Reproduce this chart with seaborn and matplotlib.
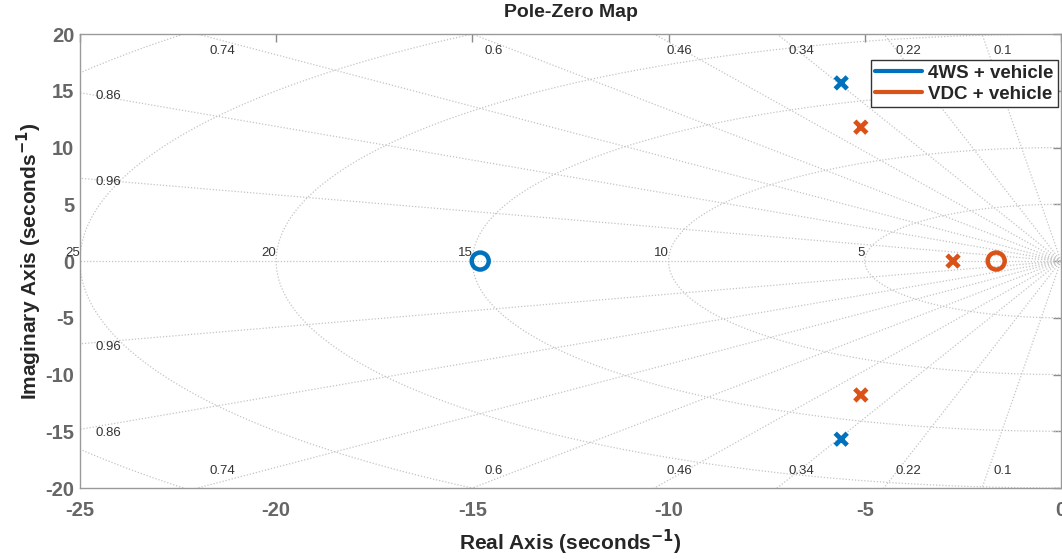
import numpy as np
import pandas as pd
import matplotlib
matplotlib.use("Agg")
import matplotlib.pyplot as plt
import seaborn as sns
from matplotlib.lines import Line2D

# pole / zero locations
systems = ["4WS + vehicle", "VDC + vehicle"]
colors = ["#0072BD", "#D95319"]
pole_re_4ws = [-5.6, -5.6]
pole_im_4ws = [15.7, -15.7]
zero_re_4ws = [-14.8]
zero_im_4ws = [0.0]
pole_re_vdc = [-5.1, -5.1, -2.75]
pole_im_vdc = [11.8, -11.8, 0.0]
zero_re_vdc = [-1.65]
zero_im_vdc = [0.0]

# s-plane grid values
damping = [0.1, 0.22, 0.34, 0.46, 0.6, 0.74, 0.86, 0.96]
wn_circles = [5, 10, 15, 20, 25, 30]
wn_labels = [5, 10, 15, 20, 25]

xlim = (-25, 0)
ylim = (-20, 20)

sns.set_style("white")
plt.rcParams['font.family'] = ['Arial', 'Liberation Sans', 'DejaVu Sans']
plt.rcParams['axes.unicode_minus'] = False

fig = plt.figure(figsize=(10.62, 5.59), dpi=100)
ax = fig.add_axes([0.0753, 0.127, 0.9237, 0.812])

grid_kw = dict(color="#c4c4c4", lw=0.9, ls=(0, (1, 1.5)), zorder=1)
lab_kw = dict(fontsize=9.5, color="#333333", zorder=2)

# damping rays
r = np.array([0, 60])
for z in damping:
    wd = np.sqrt(1 - z ** 2)
    for sgn in (1, -1):
        ax.plot(-z * r, sgn * wd * r, **grid_kw)
    slope = wd / z
    x_top = -ylim[1] / slope
    if x_top > xlim[0]:
        ax.text(x_top + 0.3, 18.5, f"{z:g}", ha="left", va="center", **lab_kw)
        ax.text(x_top + 0.3, -18.5, f"{z:g}", ha="left", va="center", **lab_kw)
    else:
        y_left = -xlim[0] * slope
        ax.text(-24.6, y_left - 0.3, f"{z:g}", ha="left", va="center", **lab_kw)
        ax.text(-24.6, -y_left - 0.3, f"{z:g}", ha="left", va="center", **lab_kw)
ax.plot([-60, 0], [0, 0], **grid_kw)

# natural frequency semicircles
th = np.linspace(np.pi / 2, 3 * np.pi / 2, 300)
for w in wn_circles:
    ax.plot(w * np.cos(th), w * np.sin(th), **grid_kw)
for w in wn_labels:
    ax.text(-w, 0.2, f"{w}", ha="right", va="bottom", clip_on=False, **lab_kw)

# poles and zeros
poles = pd.DataFrame({
    "re": pole_re_4ws + pole_re_vdc,
    "im": pole_im_4ws + pole_im_vdc,
    "sys": [systems[0]] * len(pole_re_4ws) + [systems[1]] * len(pole_re_vdc),
})
zeros = pd.DataFrame({
    "re": zero_re_4ws + zero_re_vdc,
    "im": zero_im_4ws + zero_im_vdc,
    "sys": [systems[0]] * len(zero_re_4ws) + [systems[1]] * len(zero_re_vdc),
})
pal = dict(zip(systems, colors))
sns.scatterplot(data=poles, x="re", y="im", hue="sys", palette=pal, marker="x",
                s=75, linewidth=3.4, legend=False, ax=ax, zorder=5)
sns.scatterplot(data=zeros, x="re", y="im", hue="sys", palette=pal, marker="o",
                s=150, linewidth=3.2, legend=False, ax=ax, zorder=5)
zc = ax.collections[-1]
zc.set_edgecolor([pal[s] for s in zeros["sys"]])
zc.set_facecolor("none")

ax.set_xlim(xlim)
ax.set_ylim(ylim)
ax.set_xticks(range(-25, 1, 5))
ax.set_yticks(range(-20, 21, 5))
ax.tick_params(direction="in", length=6, width=1, color="#8a8a8a",
               labelsize=14.5, labelcolor="#666666", top=True, right=True,
               pad=4)
ax.tick_params(axis="x", pad=9)
for lab in ax.get_xticklabels() + ax.get_yticklabels():
    lab.set_fontweight("bold")
for sp in ax.spines.values():
    sp.set_color("#9a9a9a")
    sp.set_linewidth(1)

ax.set_title("Pole-Zero Map", fontsize=14, fontweight="bold", pad=12)
ax.set_xlabel(r"Real Axis (seconds$^{\mathbf{-1}}$)", fontsize=15,
              fontweight="bold", labelpad=6)
ax.set_ylabel(r"Imaginary Axis (seconds$^{\mathbf{-1}}$)", fontsize=15,
              fontweight="bold", labelpad=1)

handles = [Line2D([0], [0], color=c, lw=3) for c in colors]
leg = ax.legend(handles, systems, loc="upper right", bbox_to_anchor=(0.997, 0.943),
                fancybox=False, framealpha=1, edgecolor="#333333",
                prop={"weight": "bold", "size": 13.5}, handlelength=2.5,
                handletextpad=0.3, borderpad=0.25, labelspacing=0.2,
                borderaxespad=0)
leg.get_frame().set_linewidth(1)

fig.savefig("out.png", dpi=100)
